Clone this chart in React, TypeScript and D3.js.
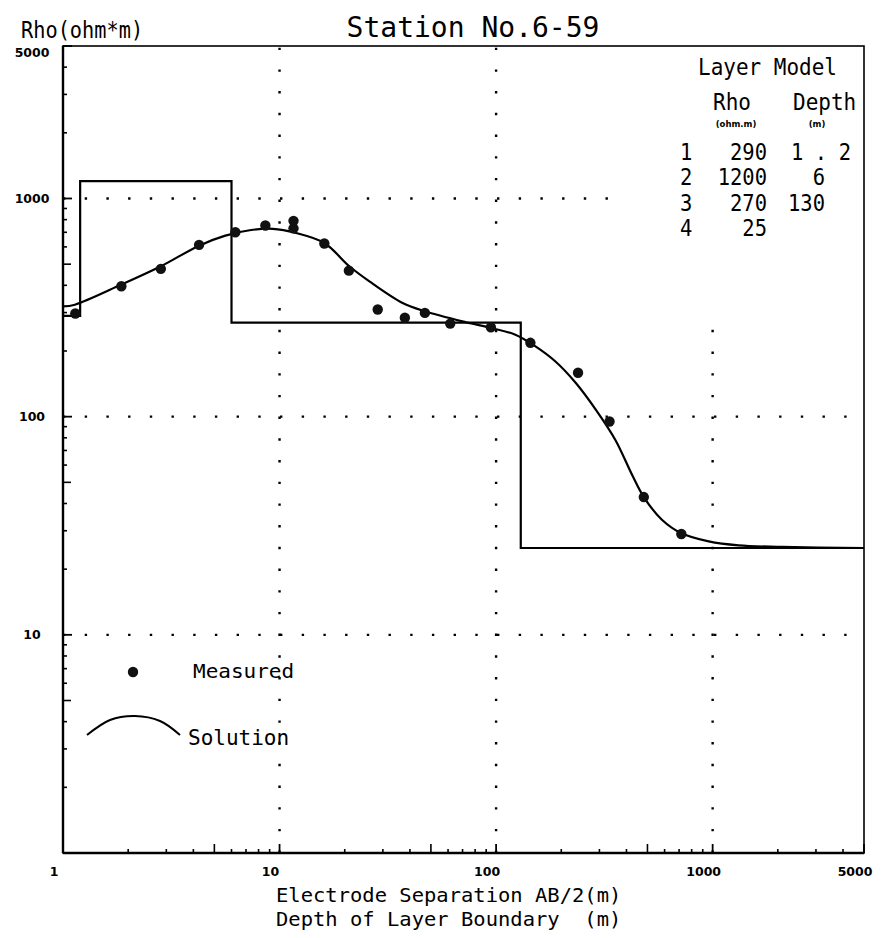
import React from "react";
import * as d3 from "d3";

// ---- data ----
const measuredAB = [1.14, 1.86, 2.83, 4.25, 6.25, 8.6, 11.6, 11.6, 16.1, 20.9, 28.4, 37.9, 46.9, 61.4, 94.6, 144, 239, 334, 481, 717];
const measuredRho = [297, 396, 476, 613, 700, 752, 790, 730, 622, 467, 310, 284, 299, 267, 257, 218, 159, 95, 42.8, 29.0];

const solutionAB = [1, 1.135, 1.86, 2.83, 4.25, 5.62, 7.28, 9.31, 11.9, 16.1, 21.0, 26.0, 37.0, 46.9, 72.4, 94.6, 122, 152, 188, 233, 288, 356, 425, 481, 583, 718, 959, 1318, 2084, 5000];
const solutionRho = [320, 326, 403, 489, 608, 676, 715, 726, 695, 625, 489, 417, 332, 304, 271, 255, 238, 210, 179, 143, 108, 78, 54, 42.8, 33.7, 29.2, 26.8, 25.7, 25.3, 25.0];

const layerNo = ["1", "2", "3", "4"];
const layerRho = [290, 1200, 270, 25];
const layerDepth = [1.2, 6, 130];

const xDomain = [1, 5000];
const yDomain = [1, 5000];
const xTickValues = [1, 10, 100, 1000, 5000];
const xTickLabels = ["1", "10", "100", "1000", "5000"];
const yTickValues = [5000, 1000, 100, 10];
const yTickLabels = ["5000", "1000", "100", "10"];
const gridX = [10, 100, 1000];
const gridXTopRho = [5000, 5000, 290];
const gridY = [1000, 100, 10];
const gridYRightAB = [400, 5000, 5000];

const MONO = "'DejaVu Sans Mono', 'Liberation Mono', monospace";
const SANS = "'DejaVu Sans', 'Liberation Sans', sans-serif";

function PText(props: any) {
  const { x, y, size, sy = 1, anchor = "start", weight = "normal", family = MONO, children, textLength } = props;
  return (
    <text
      transform={`translate(${x},${y}) scale(1,${sy})`}
      fontSize={size}
      fontFamily={family}
      fontWeight={weight}
      textAnchor={anchor}
      fill="#000"
      textLength={textLength}
      lengthAdjust={textLength ? "spacing" : undefined}
      style={{ whiteSpace: "pre" }}
    >
      {children}
    </text>
  );
}

export default function App() {
  const W = 885, H = 938;
  const x = d3.scaleLog().domain(xDomain).range([63, 864]);
  const y = d3.scaleLog().domain(yDomain).range([853, 46]);
  const [x0, x1] = x.range();
  const [y0, y1] = y.range();

  const xMinor: number[] = [];
  for (let dec = 1; dec <= 1000; dec *= 10)
    for (let m = 2; m <= 9; m++) if (dec * m < 5000) xMinor.push(dec * m);
  const yMinor: number[] = [];
  for (let dec = 1; dec <= 1000; dec *= 10)
    for (let m = 2; m <= 9; m++) if (dec * m < 5000) yMinor.push(dec * m);

  const stepPts: [number, number][] = [];
  let prev = xDomain[0];
  layerRho.forEach((r, i) => {
    const end = i < layerDepth.length ? layerDepth[i] : xDomain[1];
    stepPts.push([prev, r]);
    stepPts.push([end, r]);
    prev = end;
  });
  const stepLine = d3.line<[number, number]>().x((d) => x(d[0])).y((d) => y(d[1]));

  const solLine = d3
    .line<number>()
    .x((_, i) => x(solutionAB[i]))
    .y((d) => y(d))
    .curve(d3.curveCatmullRom.alpha(0.5));

  const legendArc = d3.line<[number, number]>().curve(d3.curveCardinal)([
    [87, 735],
    [110, 720],
    [135, 716],
    [160, 721],
    [180, 735],
  ]);

  const dot = { stroke: "#000", strokeWidth: 2.4, strokeDasharray: "2.4 19.3", fill: "none" };

  const tableRowY = (i: number) => 160 + i * 25.3;

  return (
    <svg width={W} height={H} style={{ position: "absolute", left: 0, top: 0, background: "#fff" }}>
      <rect x={0} y={0} width={W} height={H} fill="#fff" />

      {gridX.map((g, i) => (
        <line key={"gx" + i} x1={x(g)} x2={x(g)} y1={y(1)} y2={y(gridXTopRho[i])} {...dot} />
      ))}
      {gridY.map((g, i) => (
        <line key={"gy" + i} x1={x(1)} x2={x(gridYRightAB[i])} y1={y(g)} y2={y(g)} {...dot} />
      ))}

      <rect x={x0} y={y1} width={x1 - x0} height={y0 - y1} fill="none" stroke="#000" strokeWidth={1.6} />
      <line x1={x0} x2={x0} y1={y1} y2={y0} stroke="#000" strokeWidth={2.4} />
      <line x1={x0} x2={x1} y1={y0} y2={y0} stroke="#000" strokeWidth={2.4} />

      {xMinor.map((v) => (
        <line key={"xm" + v} x1={x(v)} x2={x(v)} y1={y0} y2={y0 - (String(v)[0] === "5" ? 9 : 4)} stroke="#000" strokeWidth={1.6} />
      ))}
      {xTickValues.map((v) => (
        <line key={"xt" + v} x1={x(v)} x2={x(v)} y1={y0} y2={y0 - 9} stroke="#000" strokeWidth={1.8} />
      ))}
      {xTickValues.map((v, i) => (
        <PText key={"xl" + v} x={x(v) - 9} y={876} size={12.5} sy={1.05} family={SANS} weight="bold" anchor="middle">
          {xTickLabels[i]}
        </PText>
      ))}

      {yMinor.map((v) => (
        <line key={"ym" + v} x1={x0} x2={x0 + (String(v)[0] === "5" ? 8 : 4)} y1={y(v)} y2={y(v)} stroke="#000" strokeWidth={1.6} />
      ))}
      {yTickValues.map((v) => (
        <line key={"yt" + v} x1={x0} x2={x0 + 9} y1={y(v)} y2={y(v)} stroke="#000" strokeWidth={1.8} />
      ))}
      {yTickValues.map((v, i) => (
        <PText key={"yl" + v} x={32} y={y(v) + (i === 0 ? 11 : 4.5)} size={12.5} sy={1.05} family={SANS} weight="bold" anchor="middle">
          {yTickLabels[i]}
        </PText>
      ))}

      <path d={stepLine(stepPts) || ""} fill="none" stroke="#000" strokeWidth={2.2} />
      <path d={solLine(solutionRho) || ""} fill="none" stroke="#000" strokeWidth={2.2} />

      {measuredRho.map((r, i) => (
        <circle key={"m" + i} cx={x(measuredAB[i])} cy={y(r)} r={5.2} fill="#111" />
      ))}

      <PText x={473} y={37} size={28} anchor="middle">Station No.6-59</PText>
      <PText x={21} y={38} size={20.3} sy={1.15}>Rho(ohm*m)</PText>
      <PText x={276} y={902} size={20.5} sy={0.98}>Electrode Separation AB/2(m)</PText>
      <PText x={276} y={926} size={20.5} sy={0.98}>{"Depth of Layer Boundary  (m)"}</PText>

      <circle cx={133} cy={672} r={5.2} fill="#111" />
      <PText x={193} y={678} size={21} sy={0.95}>Measured</PText>
      <path d={legendArc || ""} fill="none" stroke="#000" strokeWidth={2} />
      <PText x={188} y={745} size={21} sy={1.0}>Solution</PText>

      <PText x={698} y={75} size={21} sy={1.12}>Layer Model</PText>
      <PText x={713} y={110} size={21} sy={1.12}>Rho</PText>
      <PText x={793} y={110} size={21} sy={1.12}>Depth</PText>
      <PText x={736} y={127} size={8.5} weight="bold" family={SANS} anchor="middle">(ohm.m)</PText>
      <PText x={817} y={127} size={8.5} weight="bold" family={SANS} anchor="middle">(m)</PText>
      {layerNo.map((n, i) => (
        <g key={"row" + i}>
          <PText x={680} y={tableRowY(i)} size={20.5} sy={1.12}>{n}</PText>
          <PText x={767} y={tableRowY(i)} size={20.5} sy={1.12} anchor="end">{String(layerRho[i])}</PText>
          {i < layerDepth.length && (
            String(layerDepth[i]).includes(".") ? (
              <PText x={791} y={tableRowY(i)} size={20.5} sy={1.12} textLength={60}>{String(layerDepth[i])}</PText>
            ) : (
              <PText x={825} y={tableRowY(i)} size={20.5} sy={1.12} anchor="end">{String(layerDepth[i])}</PText>
            )
          )}
        </g>
      ))}
    </svg>
  );
}
